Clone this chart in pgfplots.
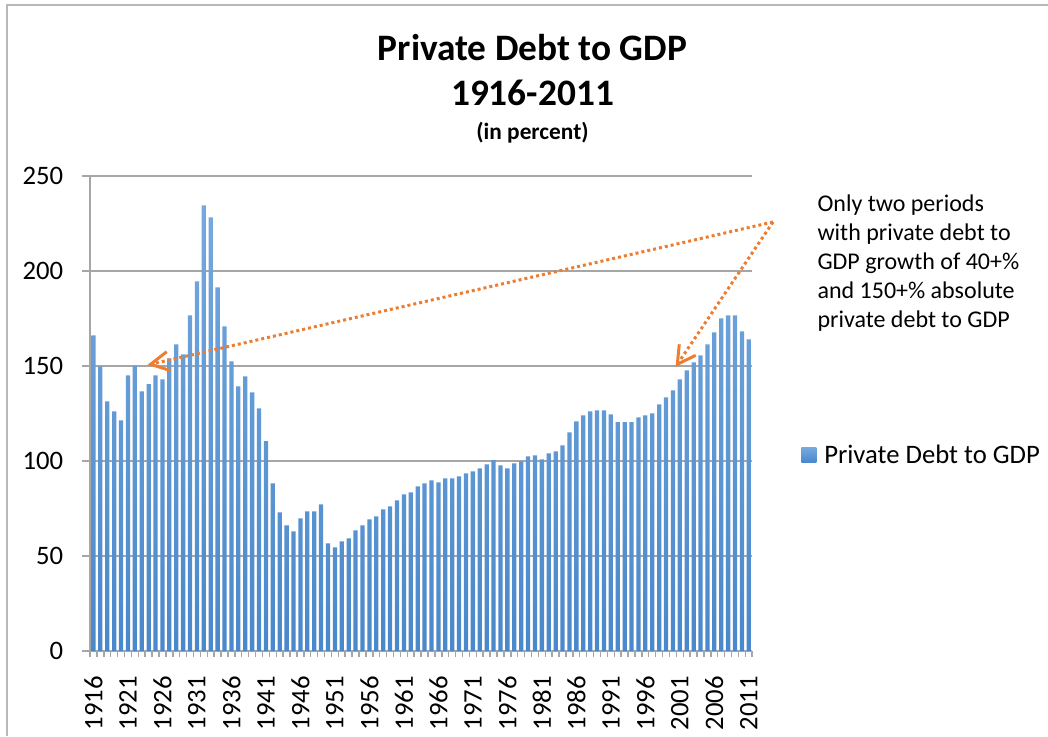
\documentclass[border=0pt]{standalone}
\usepackage{pgfplots}
\pgfplotsset{compat=1.18}
\usepackage{fontspec}
\setmainfont{Carlito}
\definecolor{barTop}{HTML}{76A9DE}
\definecolor{barBot}{HTML}{4A88CB}
\definecolor{gridgray}{HTML}{A6A6A6}
\definecolor{annorange}{HTML}{ED7D31}
\begin{document}
\begin{tikzpicture}[x=0.75pt,y=0.75pt]
\useasboundingbox (0,0) rectangle (1048,736);
\draw[gridgray!80, line width=0.9pt] (7,0) -- (7,731) -- (1048,731);
\begin{axis}[
  at={(67.5pt,63.75pt)}, anchor=south west,
  scale only axis, width=496.7pt, height=356.25pt,
  xmin=1915.5, xmax=2011.5, ymin=0, ymax=250,
  axis lines=left, axis line style={gridgray, line width=1.1pt, -},
  ytick={0,50,...,250}, ymajorgrids, grid style={gridgray, line width=1.1pt},
  xtick={1916,1921,...,2011},
  xticklabels={1916,1921,1926,1931,1936,1941,1946,1951,1956,1961,1966,1971,1976,1981,1986,1991,1996,2001,2006,2011},
  minor xtick={1915.5,1916.5,...,2011.5},
  major x tick style={draw=none},
  tick align=outside, major tick length=6pt, minor tick length=4.5pt,
  tick style={gridgray, line width=1.1pt},
  /pgf/number format/assume math mode=true,
  yticklabel style={font=\fontsize{20}{24}\selectfont, inner sep=0pt, xshift=-14pt},
  xticklabel style={font=\fontsize{20}{24}\selectfont, yshift=-12.75pt, rotate=90, anchor=east, inner sep=0pt},
  legend style={at={(axis description cs:1.0736,0.4126)}, anchor=west, draw=none, fill=none,
    inner sep=0pt, font=\fontsize{20}{24}\selectfont, nodes={inner sep=0pt}},
  legend image code/.code={\path (0pt,0pt) rectangle (17.25pt,0pt);\shade[top color=barTop, bottom color=barBot] (0pt,-5.6pt) rectangle (11.25pt,5.6pt);},
]
\addplot[ybar, bar width=0.62, draw=none, top color=barTop, bottom color=barBot] coordinates {
(1916,166.1) (1917,149.8) (1918,131.4) (1919,126.1) (1920,121.4)
(1921,145.1) (1922,150.2) (1923,136.7) (1924,140.4) (1925,145.1)
(1926,143.0) (1927,154.0) (1928,161.4) (1929,156.1) (1930,176.7)
(1931,194.6) (1932,234.6) (1933,228.2) (1934,191.4) (1935,170.9)
(1936,152.5) (1937,139.3) (1938,144.6) (1939,136.1) (1940,127.7)
(1941,110.4) (1942,88.2) (1943,73.0) (1944,66.1) (1945,63.0)
(1946,69.8) (1947,73.5) (1948,73.5) (1949,77.2) (1950,56.7)
(1951,54.6) (1952,57.7) (1953,59.3) (1954,63.5) (1955,66.1)
(1956,69.3) (1957,70.9) (1958,74.6) (1959,76.1) (1960,79.3)
(1961,82.5) (1962,83.5) (1963,86.7) (1964,88.2) (1965,89.8)
(1966,88.8) (1967,90.9) (1968,90.9) (1969,91.9) (1970,93.5)
(1971,94.6) (1972,96.1) (1973,98.2) (1974,100.4) (1975,97.7)
(1976,96.1) (1977,98.8) (1978,99.8) (1979,102.5) (1980,103.0)
(1981,100.9) (1982,104.0) (1983,105.1) (1984,108.2) (1985,115.1)
(1986,120.9) (1987,124.0) (1988,126.1) (1989,126.7) (1990,126.7)
(1991,124.6) (1992,120.4) (1993,120.4) (1994,120.4) (1995,123.0)
(1996,124.0) (1997,125.1) (1998,129.8) (1999,133.5) (2000,137.2)
(2001,143.0) (2002,147.7) (2003,151.9) (2004,155.6) (2005,161.4)
(2006,167.7) (2007,175.1) (2008,176.7) (2009,176.7) (2010,168.2)
(2011,164.0)
};
\addlegendentry{Private Debt to GDP}
\end{axis}
% title
\node[anchor=base, font=\bfseries\fontsize{28}{33}\selectfont, inner sep=0pt] at (532.5,675) {Private Debt to GDP};
\node[anchor=base, font=\bfseries\fontsize{28}{33}\selectfont, inner sep=0pt] at (532.5,630) {1916-2011};
\node[anchor=base, font=\bfseries\fontsize{17.5}{21}\selectfont, inner sep=0pt] at (532.5,596) {(in percent)};
% annotation
\node[anchor=base west, align=left, inner sep=0pt, font=\fontsize{18}{21.75}\selectfont] at (817.3,408)
  {Only two periods\\with private debt to\\GDP growth of 40+\%\\and 150+\% absolute\\private debt to GDP};
\draw[annorange, line width=2.25pt, dash pattern=on 2.25pt off 2.25pt] (773,514) -- (150.7,371.7);
\draw[annorange, line width=2.25pt, dash pattern=on 2.25pt off 2.25pt] (773,514) -- (677.3,371.7);
\draw[annorange, line width=2.25pt] (166.7,384.3) -- (150.7,371.7) -- (170.7,365.3);
\draw[annorange, line width=2.25pt] (679.3,391.7) -- (677.3,371.7) -- (695.7,380.7);
\end{tikzpicture}
\end{document}
